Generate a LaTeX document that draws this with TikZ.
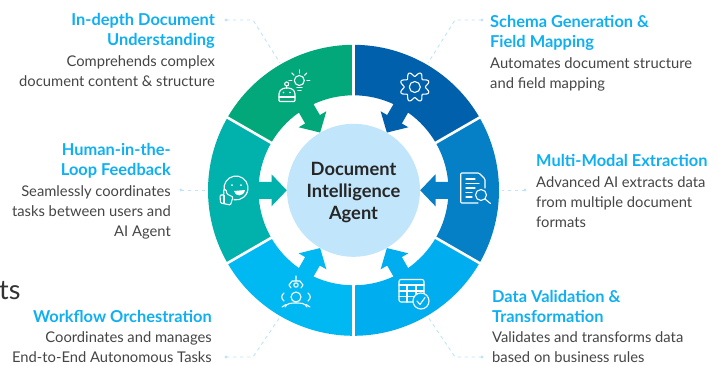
\documentclass[tikz,border=0pt]{standalone}
\usepackage{fontspec}
\setmainfont{Lato}
\usetikzlibrary{positioning}
\definecolor{segGreen}{HTML}{02A87A}
\definecolor{segNavy}{HTML}{0060AC}
\definecolor{segBlue}{HTML}{0580C6}
\definecolor{segCyan}{HTML}{00AEEF}
\definecolor{segSky}{HTML}{00B8F2}
\definecolor{segTeal}{HTML}{00B1AC}
\definecolor{coreBlue}{HTML}{C1E5FA}
\definecolor{leadBlue}{HTML}{BFE4F8}
\definecolor{headBlue}{HTML}{0FAFF2}
\definecolor{bodyGrey}{HTML}{454545}
\tikzset{
  icon/.style={draw=white,line width=1.1pt,line cap=round,line join=round},
  px/.style={shift={(-353.5,190.3)},y=-1pt},
  heading/.style={inner sep=0pt,text=headBlue,font=\bfseries\fontsize{16.4}{20}\selectfont},
  blurb/.style={inner sep=0pt,text=bodyGrey,font=\fontsize{14.75}{20}\selectfont},
  leader/.style={draw=leadBlue,line width=0.9pt,dash pattern=on 3.5pt off 3.5pt},
  leaddot/.style={fill=leadBlue}
}
\begin{document}
\begin{tikzpicture}[x=1pt,y=1pt]
\useasboundingbox (-353.5,-174.7) rectangle (365.5,190.3);
% ring with one arrow per segment
\foreach \ang/\col in {120/segGreen,60/segNavy,0/segBlue,-60/segCyan,-120/segSky,180/segTeal}
  \fill[\col,rotate=\ang] (30:95) -- (30:145.5) arc (30:-30:145.5) -- (-30:95) arc (-30:-5.1:95)
    -- (82,-8.5) -- (82,-16) -- (66.7,0) -- (82,16) -- (82,8.5) -- (5.1:95) arc (5.1:30:95) -- cycle;
\foreach \ang in {90,30,-30,-90,-150,150}
  \draw[white,line width=2.6pt] (\ang:90) -- (\ang:148);
%
\node[circle,fill=coreBlue,minimum size=133pt,inner sep=0pt,align=center,text=black!85,
      font=\bfseries\fontsize{18.3}{22}\selectfont] (core) at (0,0) {\rule{0pt}{17pt}Document\\Intelligence\\Agent};
%
\begin{scope}[px]
% labels
\node[heading,align=right,anchor=north east] (depthHead) at (215,13) {In-depth Document\\Understanding};
\node[blurb,align=right,anchor=north east] (depthText) at ([yshift=-7pt]depthHead.south east) {Comprehends complex\\document content \& structure};
\node[heading,align=left,anchor=north west] (schemaHead) at (490,15) {Schema Generation \&\\Field Mapping};
\node[blurb,align=left,anchor=north west] (schemaText) at ([yshift=-7pt]schemaHead.south west) {Automates document structure\\and field mapping};
\node[heading,anchor=north west] (modalHead) at (536,154) {Multi-Modal Extraction};
\node[blurb,align=left,anchor=north west] (modalText) at ([yshift=-10pt]modalHead.south west) {Advanced AI extracts data\\from multiple document\\formats};
\node[heading,align=left,anchor=north west] (checkHead) at (492,290) {Data Validation \&\\Transformation};
\node[blurb,align=left,anchor=north west] (checkText) at ([yshift=-9pt]checkHead.south west) {Validates and transforms data\\based on business rules};
\node[heading,anchor=north east] (flowHead) at (212,310) {Workflow Orchestration};
\node[blurb,align=right,anchor=north east] (flowText) at ([yshift=-9pt]flowHead.south east) {Coordinates and manages\\End-to-End Autonomous Tasks};
\node[heading,align=right,anchor=north east] (loopHead) at (171,143) {Human-in-the-\\Loop Feedback};
\node[blurb,align=right,anchor=north east] (loopText) at ([yshift=-7pt]loopHead.south east) {Seamlessly coordinates\\tasks between users and\\AI Agent};
\node[inner sep=0pt,anchor=west,text=black!80,font=\fontsize{27}{27}\selectfont] (cutText) at (-1,291) {ts};
% leaders
\coordinate (depthDot) at (226,20);
\coordinate (depthRim) at (280,63);
\coordinate (schemaDot) at (482,20);
\coordinate (schemaRim) at (428,63);
\coordinate (modalDot) at (525,190);
\coordinate (modalRim) at (502,190);
\coordinate (checkDot) at (482,357);
\coordinate (checkRim) at (428,317);
\coordinate (flowDot) at (226,357);
\coordinate (flowRim) at (280,317);
\coordinate (loopDot) at (181,190);
\coordinate (loopRim) at (205,190);
\draw[leader] (depthDot) -- ++(27,0) -- (depthRim);
\draw[leader] (schemaDot) -- ++(-27,0) -- (schemaRim);
\draw[leader] (modalDot) -- (modalRim);
\draw[leader] (checkDot) -- ++(-27,0) -- (checkRim);
\draw[leader] (flowDot) -- ++(27,0) -- (flowRim);
\draw[leader] (loopDot) -- (loopRim);
\foreach \dotname in {depthDot,schemaDot,modalDot,checkDot,flowDot,loopDot}
  \fill[leaddot] (\dotname) circle (1.7);
% robot and bulb
\draw[icon,rounded corners=1pt] (279,101.5) -- (279,95) .. controls (279,90) and (283,88) .. (287,88)
  .. controls (291,88) and (295,90) .. (295,95) -- (295,101.5) -- cycle;
\draw[icon] (279,97) -- (295,97) (286.7,86) -- (286.7,88);
\draw[icon] (286.7,84) circle (2) (299.3,80.5) circle (5);
\fill[white] (283.5,92.5) circle (0.9) (290,92.5) circle (0.9);
\draw[icon] (297,87.5) -- (302,87.5) (298,90.5) -- (301,90.5);
\foreach \a in {0,-45,-90,-135,-180}
  \draw[icon] (299.3,80.5) ++(\a:7.5) -- ++(\a:3);
% gear
\draw[icon,shift={(414.8,87)}] plot[smooth,samples=97,domain=0:360] (\x+22.5:{12.8+2.2*cos(8*\x)}) -- cycle;
\draw[icon] (414.8,87) circle (5.5);
% page and lens
\draw[icon,rounded corners=1pt] (478,203) -- (460.7,203) -- (460.7,173) -- (479,173) -- (485,179) -- (485,188);
\draw[icon] (466,179) -- (475,179) (466,183.5) -- (479,183.5) (466,188) -- (475,188) (466,192.5) -- (472,192.5) (466,197) -- (472,197);
\draw[icon] (481,195) circle (5.5) (485,199) -- (490.5,203.5);
% table and tick
\draw[icon,rounded corners=2pt] (399,279.5) rectangle (424,302);
\draw[icon] (399,285) -- (424,285) (399,291) -- (424,291) (399,296.5) -- (424,296.5) (407,285) -- (407,302) (416,285) -- (416,302);
\draw[icon,fill=segCyan] (421,301) circle (8);
\draw[icon] (417,301) -- (420,304.5) -- (425,297.5);
% people and claw
\draw[icon] (296,276) -- (296,281) (291,288) -- (289,285) -- (292,281) -- (300,281) -- (303,285) -- (301,288);
\draw[icon] (296,285) circle (2.2) (296,297) circle (5);
\draw[icon] (285,307) .. controls (287,303) and (291,303) .. (296,303) .. controls (301,303) and (305,303) .. (307,307);
\draw[icon] (284,293) .. controls (281,295) and (281,299) .. (284,301) (308,293) .. controls (311,295) and (311,299) .. (308,301);
\draw[icon] (282,307) -- (286,304.5) (310,307) -- (306,304.5);
% smiley with thumb
\draw[icon] (236,188) ++(170:12) arc (170:460:12);
\fill[white] (232,185) circle (1) (241,185) circle (1);
\fill[white] (234,191) .. controls (235,197) and (244,197) .. (245,190) -- cycle;
\draw[icon,rounded corners=1pt] (220,195) -- (224,195) -- (223.5,189.5) -- (226,189.5) -- (227,194) -- (233,197) -- (230.5,205) -- (220.5,203) -- cycle;
\draw[icon] (224,195.5) -- (224,203);
\end{scope}
\end{tikzpicture}
\end{document}
